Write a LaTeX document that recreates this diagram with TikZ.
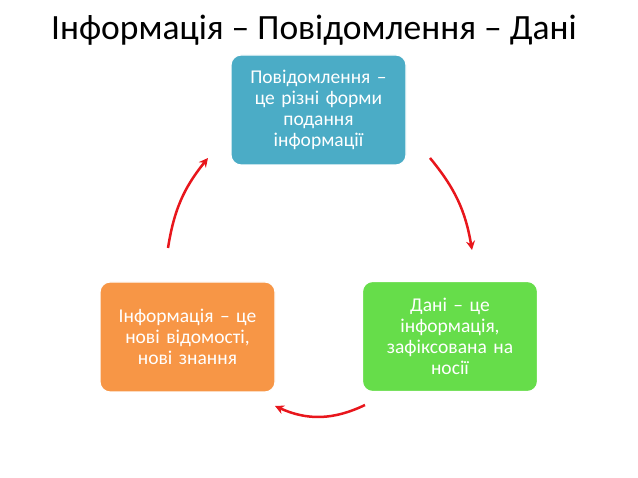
\documentclass[tikz,border=0pt]{standalone}
\usepackage{fontspec}
\setmainfont{Carlito}
\usetikzlibrary{arrows.meta}
\definecolor{bl}{HTML}{4BACC6}
\definecolor{og}{HTML}{F79646}
\definecolor{gr}{HTML}{66DD4A}
\definecolor{rd}{HTML}{E8161C}
\begin{document}
\begin{tikzpicture}[x=1pt,y=-1pt,
 box/.style={draw=white,line width=1.2pt,rounded corners=10pt,minimum width=175pt,minimum height=110pt,text width=165pt,align=center,text=white,font=\fontsize{19.5}{21}\selectfont},
 arr/.style={draw=rd,line width=2.5pt,-{Stealth[length=9pt,width=9pt]}}]
\useasboundingbox (0,0) rectangle (638,478);
\node[font=\fontsize{35.5}{40}\selectfont] (t) at (314,30) {Інформація – Повідомлення – Дані};
\node[box,fill=bl] (a) at (318.5,110) {Повідомлення –\\це різні форми\\подання\\інформації};
\node[box,fill=gr] (b) at (450,336.5) {Дані – це\\інформація,\\зафіксована на\\носії};
\node[box,fill=og] (c) at (187.5,337) {Інформація – це\\нові відомості,\\нові знання};
\coordinate (a1) at (430,158); \coordinate (a2) at (472,250);
\coordinate (b1) at (365,405); \coordinate (b2) at (275,406);
\coordinate (c1) at (168,248); \coordinate (c2) at (208,158);
\draw[arr] (a1) to[bend left=15] (a2);
\draw[arr] (b1) to[bend left=25] (b2);
\draw[arr] (c1) to[bend left=15] (c2);
\end{tikzpicture}
\end{document}
